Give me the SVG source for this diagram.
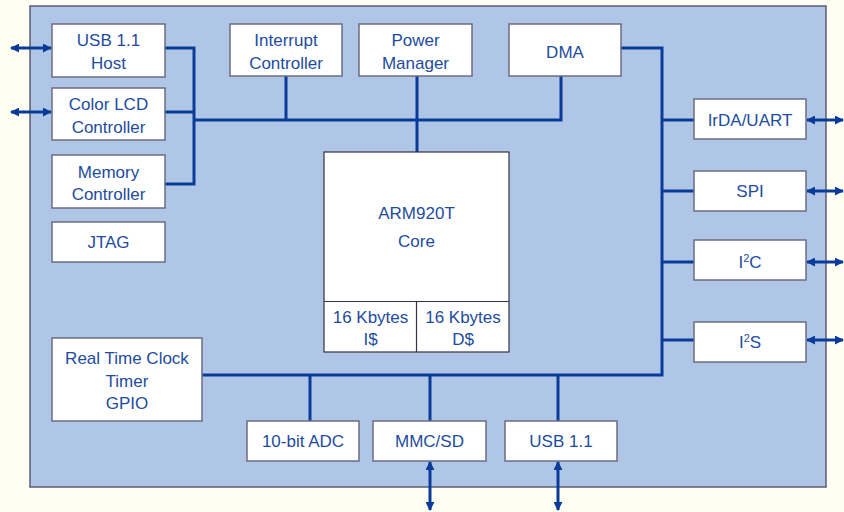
<svg xmlns="http://www.w3.org/2000/svg" width="844" height="512" viewBox="0 0 844 512">
<defs>
<style>
.box{fill:#ffffff;stroke:#6c6c84;stroke-width:1.5}
.core{fill:#ffffff;stroke:#333344;stroke-width:1.2}
.t{font-family:"Liberation Sans",Arial,sans-serif;font-size:17px;fill:#1e4c9e;text-anchor:middle}
.w{fill:none;stroke:#0a3a9a;stroke-width:3}
.ext{fill:none;stroke:#0a3a9a;stroke-width:3;marker-start:url(#ah);marker-end:url(#ah)}
</style>
<marker id="ah" viewBox="0 0 10 10" refX="9" refY="5" markerWidth="3.2" markerHeight="3" orient="auto-start-reverse" markerUnits="strokeWidth">
<path d="M0,0 L10,5 L0,10 Z" fill="#0a3a9a"/>
</marker>
</defs>
<rect x="0" y="0" width="844" height="512" fill="#fffef2"/>
<rect id="chip" x="30" y="6" width="796" height="481" fill="#b0c6e6" stroke="#5c5c74" stroke-width="1.5"/>

<g id="connectors">
<!-- left bus -->
<path class="w" d="M165,48 H194 V184 H165"/>
<path class="w" d="M165,112 H194"/>
<path class="w" d="M194,120 H561 V76"/>
<path class="w" d="M286,76 V120"/>
<path class="w" d="M417,76 V152"/>
<!-- right bus -->
<path class="w" d="M621,48 H662 V375 H202"/>
<path class="w" d="M662,120 H694"/>
<path class="w" d="M662,191 H694"/>
<path class="w" d="M662,262 H694"/>
<path class="w" d="M662,340 H694"/>
<path class="w" d="M310,375 V421"/>
<path class="w" d="M430,375 V421"/>
<path class="w" d="M558,375 V421"/>
<!-- external -->
<path class="ext" d="M11,48 H51"/>
<path class="ext" d="M11,112 H51"/>
<path class="ext" d="M807,120 H843"/>
<path class="ext" d="M807,191 H843"/>
<path class="ext" d="M807,262 H843"/>
<path class="ext" d="M807,340 H843"/>
<path class="ext" d="M430,462 V510"/>
<path class="ext" d="M558,462 V510"/>
</g>

<g id="usbhost"><rect class="box" x="52" y="24" width="113" height="53"/><text class="t" x="108.5" y="46">USB 1.1</text><text class="t" x="108.5" y="69">Host</text></g>
<g id="lcd"><rect class="box" x="52" y="88" width="113" height="52"/><text class="t" x="108.5" y="110">Color LCD</text><text class="t" x="108.5" y="133">Controller</text></g>
<g id="memctrl"><rect class="box" x="52" y="155" width="113" height="53"/><text class="t" x="108.5" y="178">Memory</text><text class="t" x="108.5" y="200">Controller</text></g>
<g id="jtag"><rect class="box" x="52" y="222" width="113" height="40"/><text class="t" x="108.5" y="248">JTAG</text></g>
<g id="intctrl"><rect class="box" x="230" y="24" width="112" height="52"/><text class="t" x="286" y="46">Interrupt</text><text class="t" x="286" y="69">Controller</text></g>
<g id="power"><rect class="box" x="359" y="24" width="113" height="52"/><text class="t" x="415.5" y="46">Power</text><text class="t" x="415.5" y="69">Manager</text></g>
<g id="dma"><rect class="box" x="509" y="24" width="112" height="52"/><text class="t" x="565" y="58">DMA</text></g>
<g id="core"><rect class="core" x="324" y="152" width="185" height="200"/><line x1="324" y1="301.5" x2="509" y2="301.5" stroke="#333344" stroke-width="1.2"/><line x1="416.5" y1="301.5" x2="416.5" y2="352" stroke="#333344" stroke-width="1.2"/>
<text class="t" x="416.5" y="219">ARM920T</text><text class="t" x="416.5" y="247">Core</text>
<text class="t" x="370.5" y="323">16 Kbytes</text><text class="t" x="370.5" y="345">I$</text>
<text class="t" x="463" y="323">16 Kbytes</text><text class="t" x="463" y="345">D$</text></g>
<g id="irda"><rect class="box" x="694" y="99" width="112" height="40"/><text class="t" x="750" y="126">IrDA/UART</text></g>
<g id="spi"><rect class="box" x="694" y="171" width="112" height="40"/><text class="t" x="750" y="197">SPI</text></g>
<g id="i2c"><rect class="box" x="694" y="240" width="112" height="40"/><text class="t" x="750" y="268">I<tspan font-size="11" dy="-6">2</tspan><tspan dy="6">C</tspan></text></g>
<g id="i2s"><rect class="box" x="694" y="322" width="112" height="40"/><text class="t" x="750" y="348">I<tspan font-size="11" dy="-6">2</tspan><tspan dy="6">S</tspan></text></g>
<g id="rtc"><rect class="box" x="52" y="338" width="150" height="83"/><text class="t" x="127" y="364">Real Time Clock</text><text class="t" x="127" y="387">Timer</text><text class="t" x="127" y="409">GPIO</text></g>
<g id="adc"><rect class="box" x="247" y="421" width="112" height="40"/><text class="t" x="303" y="447">10-bit ADC</text></g>
<g id="mmc"><rect class="box" x="373" y="421" width="113" height="40"/><text class="t" x="429.5" y="447">MMC/SD</text></g>
<g id="usb"><rect class="box" x="505" y="421" width="112" height="40"/><text class="t" x="561" y="447">USB 1.1</text></g>
</svg>
